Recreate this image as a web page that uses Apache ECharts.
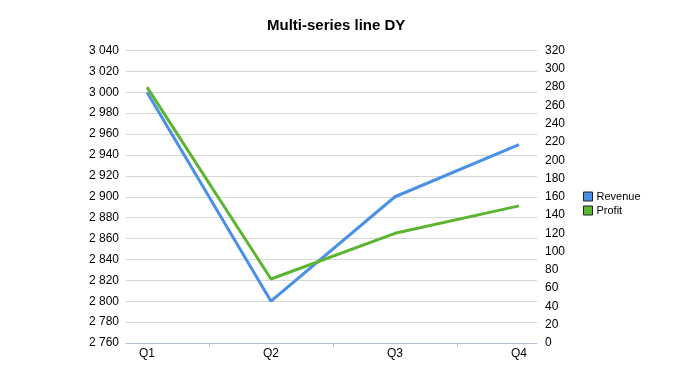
<!DOCTYPE html>
<html><head><meta charset="utf-8">
<script src="https://cdn.jsdelivr.net/npm/echarts@6/dist/echarts.min.js"></script>
<style>html,body{margin:0;padding:0;background:#fff}#c{width:700px;height:375px}</style>
</head><body><div id="c"></div>
<script>
var categories = ['Q1', 'Q2', 'Q3', 'Q4'];
var revenue = [3000, 2800, 2900, 2950];
var profit = [280, 70, 120, 150];
var leftTicks = {min: 2760, max: 3040, interval: 20};
var rightTicks = {min: 0, max: 320, interval: 20};

function fmt(v) { return String(v).replace(/\B(?=(\d{3})+(?!\d))/g, ' '); }
var tickSlots = [];
for (var i = 0; i < categories.length * 2 - 1; i++) tickSlots.push('');

var font = 'Liberation Sans, Arial, sans-serif';
var chart = echarts.init(document.getElementById('c'), null, {renderer: 'canvas'});
chart.setOption({
  animation: false,
  title: {text: 'Multi-series line DY', left: 262, top: 13,
    textStyle: {fontFamily: font, fontSize: 15, fontWeight: 'bold', color: '#000'}},
  legend: {orient: 'vertical', left: 578, top: 186, itemWidth: 9, itemHeight: 9, itemGap: 3,
    icon: 'rect', textStyle: {fontFamily: font, fontSize: 11, color: '#000', padding: [0, 0, 0, -1]},
    data: [{name: 'Revenue', itemStyle: {borderColor: '#222', borderWidth: 1}},
           {name: 'Profit', itemStyle: {borderColor: '#222', borderWidth: 1}}]},
  grid: [
    {left: 126, right: 163, top: 50.5, bottom: 32},
    {left: 147, right: 181, top: 50.5, bottom: 32}
  ],
  xAxis: [
    {gridIndex: 0, type: 'category', data: categories, axisLine: {lineStyle: {color: '#b4c2d6'}},
      axisTick: {show: false}, axisLabel: {show: false}},
    {gridIndex: 1, type: 'category', data: categories, boundaryGap: false,
      axisLine: {show: false}, axisTick: {show: false},
      axisLabel: {fontFamily: font, fontSize: 12, color: '#000', margin: 5}},
    {gridIndex: 1, type: 'category', data: tickSlots, boundaryGap: false, position: 'bottom',
      axisLine: {show: false}, axisLabel: {show: false},
      axisTick: {show: true, length: 4, lineStyle: {color: '#b4c2d6'},
        interval: function (idx) { return idx % 2 === 1; }}}
  ],
  yAxis: [
    {gridIndex: 0, type: 'value', position: 'left', min: leftTicks.min, max: leftTicks.max, interval: leftTicks.interval,
      axisLine: {show: false}, axisTick: {show: false},
      axisLabel: {fontFamily: font, fontSize: 12, color: '#000', margin: 7, formatter: fmt},
      splitLine: {lineStyle: {color: '#d6d6d6'}}},
    {gridIndex: 0, type: 'value', position: 'right', min: rightTicks.min, max: rightTicks.max, interval: rightTicks.interval,
      axisLine: {show: false}, axisTick: {show: false},
      axisLabel: {fontFamily: font, fontSize: 12, color: '#000', margin: 8, formatter: fmt},
      splitLine: {show: false}},
    {gridIndex: 1, type: 'value', min: leftTicks.min, max: leftTicks.max, show: false},
    {gridIndex: 1, type: 'value', min: rightTicks.min, max: rightTicks.max, show: false}
  ],
  series: [
    {name: 'Revenue', type: 'line', xAxisIndex: 1, yAxisIndex: 2, data: revenue,
      symbol: 'none', color: '#4a90e8', lineStyle: {width: 3, color: '#4a90e8'}},
    {name: 'Profit', type: 'line', xAxisIndex: 1, yAxisIndex: 3, data: profit,
      symbol: 'none', color: '#5cb531', lineStyle: {width: 3, color: '#5cb531'}}
  ]
});
</script></body></html>
